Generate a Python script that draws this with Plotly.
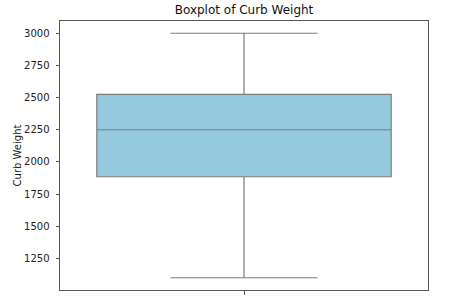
import plotly.graph_objects as go

# Data
category = ["Curb Weight"]
lower_fence = [1100]
q1_vals = [1885]
median_vals = [2250]
q3_vals = [2525]
upper_fence = [3000]
y_tick_vals = [1250, 1500, 1750, 2000, 2250, 2500, 2750, 3000]

fig = go.Figure()
fig.add_trace(go.Box(
    x=[0],
    q1=q1_vals, median=median_vals, q3=q3_vals,
    lowerfence=lower_fence, upperfence=upper_fence,
    name=category[0],
    width=0.8,
    whiskerwidth=0.5,
    fillcolor="#94c9de",
    line=dict(color="#7d7d7d", width=1.2),
    boxpoints=False,
    hoverinfo="y",
))

font = "DejaVu Sans, sans-serif"
fig.update_layout(
    width=460, height=304,
    margin=dict(l=60, r=32, t=21, b=10),
    paper_bgcolor="white", plot_bgcolor="white",
    showlegend=False,
    font=dict(family=font, size=10, color="#222"),
    title=dict(text="Boxplot of Curb Weight", x=0.5, xref="paper",
               y=1 - 10 / 304, yref="container", yanchor="middle",
               xanchor="center", font=dict(size=12, color="#111", family=font)),
)
fig.update_xaxes(
    range=[-0.5, 0.5], tickvals=[0], ticktext=[""],
    showgrid=False, zeroline=False,
    showline=True, mirror=True, linecolor="#555", linewidth=1,
    ticks="outside", ticklen=3.5, tickcolor="#555", tickwidth=1,
)
fig.update_yaxes(
    range=[1005, 3095], tickvals=y_tick_vals,
    showgrid=False, zeroline=False,
    showline=True, mirror=True, linecolor="#555", linewidth=1,
    ticks="outside", ticklen=3.5, tickcolor="#555", tickwidth=1,
    ticklabelstandoff=4,
    title=dict(text="Curb Weight", standoff=0, font=dict(size=10, family=font)),
)

fig.write_html("out.html")
